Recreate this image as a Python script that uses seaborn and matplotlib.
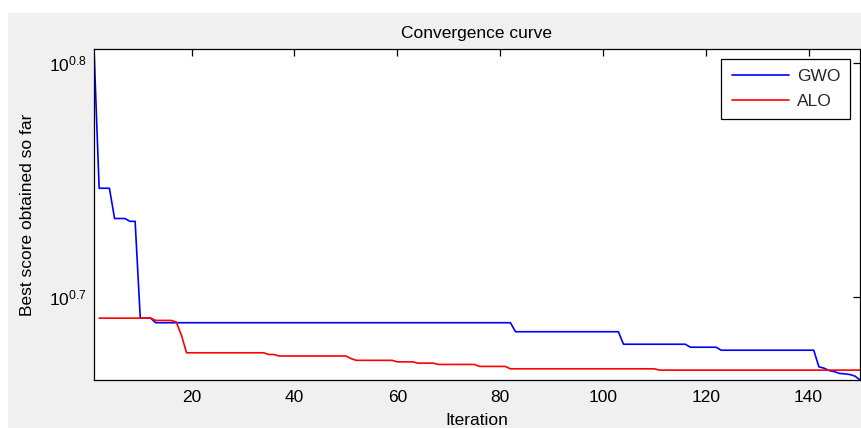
import pandas as pd
import matplotlib
matplotlib.use("Agg")
import matplotlib.pyplot as plt
import seaborn as sns
from matplotlib.patches import Rectangle
from matplotlib.ticker import NullLocator, FixedLocator, FixedFormatter

# points (iteration, best score)
gwo_iter = [1, 2, 4, 5, 7, 8, 9, 10, 12, 13, 82, 83, 103, 104, 116, 117, 122, 123,
            141, 142, 143, 144, 145, 146, 147, 148, 149, 150]
gwo_score = [6.394, 5.578, 5.578, 5.415, 5.415, 5.400, 5.400, 4.911, 4.911, 4.889,
             4.889, 4.846, 4.846, 4.787, 4.787, 4.773, 4.773, 4.759, 4.759, 4.682,
             4.676, 4.665, 4.660, 4.652, 4.650, 4.647, 4.640, 4.622]

alo_iter = [2, 12, 13, 16, 17, 18, 19, 34, 35, 36, 37, 50, 51, 52, 59, 60, 63, 64,
            67, 68, 75, 76, 81, 82, 110, 111, 150]
alo_score = [4.911, 4.911, 4.900, 4.900, 4.892, 4.830, 4.747, 4.747, 4.739, 4.739,
             4.732, 4.732, 4.720, 4.712, 4.712, 4.705, 4.705, 4.699, 4.699, 4.693,
             4.693, 4.684, 4.684, 4.673, 4.673, 4.667, 4.667]

algorithms = ["GWO", "ALO"]
line_colors = ["#0000FF", "#FF0000"]
ytick_values = [10 ** 0.7, 10 ** 0.8]
ytick_labels = [r"$10^{0.7}$", r"$10^{0.8}$"]
xtick_values = [20, 40, 60, 80, 100, 120, 140]

df = pd.concat([
    pd.DataFrame({"Iteration": gwo_iter, "score": gwo_score, "algo": "GWO"}),
    pd.DataFrame({"Iteration": alo_iter, "score": alo_score, "algo": "ALO"}),
], ignore_index=True)

sns.set_theme(style="white")
plt.rcParams["font.family"] = ["Liberation Sans", "DejaVu Sans"]
plt.rcParams["mathtext.fontset"] = "custom"
plt.rcParams["mathtext.rm"] = "Liberation Sans"
plt.rcParams["mathtext.it"] = "Liberation Sans"

fs = 12.5
fig = plt.figure(figsize=(8.62, 4.28), dpi=100, facecolor="white")
# grey window area (screenshot has a thin white border top/left)
fig.patches.append(Rectangle((8 / 862, 0), 1, (428 - 13) / 428, transform=fig.transFigure,
                             facecolor="#F0F0F0", edgecolor="none", zorder=-10))
ax = fig.add_axes([94 / 862, 48 / 428, 766 / 862, 331 / 428])
ax.set_facecolor("white")

sns.lineplot(data=df, x="Iteration", y="score", hue="algo", hue_order=algorithms,
             palette=line_colors, estimator=None, sort=False, linewidth=1.2, ax=ax)

ax.set_yscale("log")
ax.set_xlim(1, 150)
ax.set_ylim(min(min(gwo_score), min(alo_score)), max(max(gwo_score), max(alo_score)))
ax.yaxis.set_major_locator(FixedLocator(ytick_values))
ax.yaxis.set_major_formatter(FixedFormatter(ytick_labels))
ax.yaxis.set_minor_locator(NullLocator())
ax.set_xticks(xtick_values)

for s in ax.spines.values():
    s.set_color("black")
    s.set_linewidth(0.9)
ax.tick_params(direction="in", length=5, width=0.9, color="black", top=True, right=True,
               labelsize=fs, labelcolor="black", pad=5)
ax.tick_params(axis="x", pad=7)

ax.set_title("Convergence curve", fontsize=fs, color="black", pad=8)
ax.set_xlabel("Iteration", fontsize=fs, color="black", labelpad=6)
ax.set_ylabel("Best score obtained so far", fontsize=fs, color="black", labelpad=10)

leg = ax.legend(loc="upper right", fontsize=fs, frameon=True, fancybox=False,
                edgecolor="black", framealpha=1, handlelength=3.3, handletextpad=0.45,
                borderpad=0.6, borderaxespad=0.55, labelspacing=0.55)
leg.get_frame().set_linewidth(0.9)

fig.savefig("out.png", dpi=100, facecolor=fig.get_facecolor())
